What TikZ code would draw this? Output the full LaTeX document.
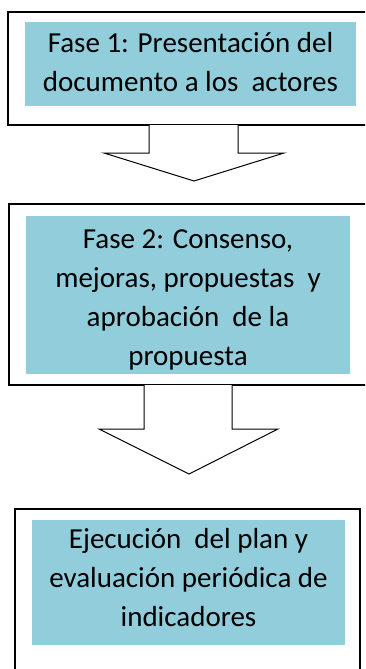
\documentclass[tikz,border=0pt]{standalone}
\usepackage{fontspec}
\setmainfont{Carlito}
\definecolor{boxblue}{HTML}{92CDDC}
\begin{document}
\begin{tikzpicture}[x=1pt,y=-1pt,
  outerbox/.style={draw=black,line width=1.5pt,fill=white,inner sep=0pt,outer sep=0pt,anchor=north west},
  fillbox/.style={fill=boxblue,inner sep=0pt,outer sep=0pt,anchor=north west},
  boxtext/.style={inner sep=0pt,outer sep=0pt,anchor=north,align=center,
    font=\fontsize{29}{39}\selectfont},
  blockarrow/.style={draw=black,line width=1pt,fill=white,line join=miter}]
\useasboundingbox (0,0) rectangle (365,669);
\clip (0,0) rectangle (365,669);
% Box 1
\node[outerbox,minimum width=370pt,minimum height=113pt] (b1) at (8,12) {};
\node[fillbox,minimum width=331pt,minimum height=84pt] (f1) at (25,22) {};
\node[boxtext] (t1) at (190.5,22) {\rule{0pt}{30pt}Fase 1: Presentación del\\documento a los\ \ actores};
% Arrow 1
\coordinate (a1) at (149,125);
\draw[blockarrow] (a1) -- (149,153) -- (104,153) -- (194,181) -- (284,153) -- (238,153) -- (238,125);
% Box 2
\node[outerbox,minimum width=370pt,minimum height=181pt] (b2) at (9,204) {};
\node[fillbox,minimum width=324pt,minimum height=158pt] (f2) at (26,216) {};
\node[boxtext] (t2) at (188,216) {\rule{0pt}{32pt}Fase 2: Consenso,\\mejoras, propuestas\ \ y\\aprobación\ \ de la\\propuesta};
% Arrow 2
\coordinate (a2) at (144,385);
\draw[blockarrow] (a2) -- (144,429) -- (99,429) -- (189,474) -- (278,429) -- (232,429) -- (232,385);
% Box 3
\node[outerbox,minimum width=345pt,minimum height=180pt] (b3) at (15,509) {};
\node[fillbox,minimum width=313pt,minimum height=125pt] (f3) at (32,520) {};
\node[boxtext] (t3) at (188.5,520) {\rule{0pt}{28pt}Ejecución\ \ del plan y\\evaluación periódica de\\indicadores};
\end{tikzpicture}
\end{document}
